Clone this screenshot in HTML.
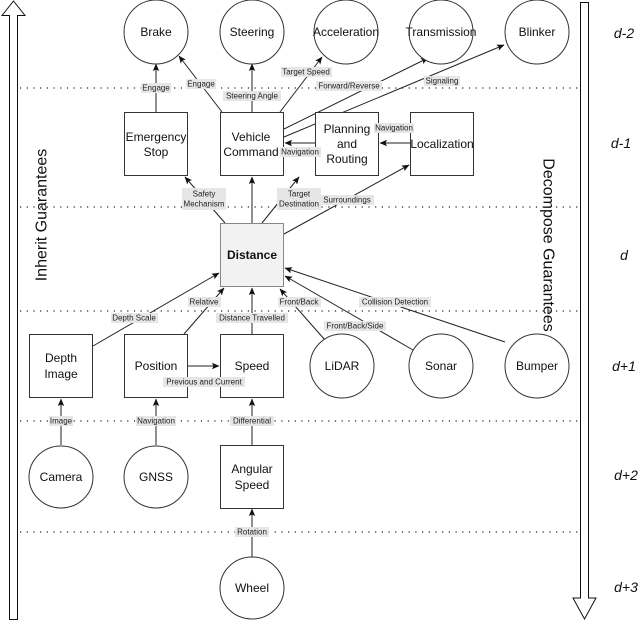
<!DOCTYPE html>
<html><head><meta charset="utf-8"><style>
html,body{margin:0;padding:0;background:#fff;width:638px;height:620px;overflow:hidden}
svg{display:block;font-family:"Liberation Sans",Arial,sans-serif}
.n{font-size:12px;fill:#111;text-anchor:middle;dominant-baseline:central}
.l{font-size:8px;fill:#222;text-anchor:middle;dominant-baseline:central}
.e{stroke:#222;stroke-width:1;fill:none;marker-end:url(#a)}
.b{fill:#fff;stroke:#333;stroke-width:1}
.dot{stroke:#222;stroke-width:1.2;stroke-dasharray:1.2 5.5}
.d{font-size:14px;font-style:italic;fill:#111;text-anchor:middle;dominant-baseline:central}
</style></head><body>
<svg width="638" height="620" viewBox="0 0 638 620">
<defs><marker id="a" markerWidth="8" markerHeight="8" refX="7" refY="4" orient="auto" markerUnits="userSpaceOnUse"><path d="M0,0.8 L7.5,4 L0,7.2 L1.5,4Z" fill="#111"/></marker></defs>
<!-- dotted lines -->
<line class="dot" x1="20" y1="88" x2="578" y2="88"/>
<line class="dot" x1="20" y1="207" x2="578" y2="207"/>
<line class="dot" x1="20" y1="311" x2="578" y2="311"/>
<line class="dot" x1="20" y1="421" x2="578" y2="421"/>
<line class="dot" x1="20" y1="532" x2="578" y2="532"/>
<!-- side arrows -->
<path d="M9.5,619.5 L9.5,15.5 L2,15.5 L13.5,1 L25,15.5 L17.5,15.5 L17.5,619.5 Z" fill="#fff" stroke="#111"/>
<path d="M580.5,2.5 L588.5,2.5 L588.5,598 L596,598 L584.5,619 L573,598 L580.5,598 Z" fill="#fff" stroke="#111"/>
<text transform="translate(42,215) rotate(-90)" style="font-size:16px;fill:#111;text-anchor:middle;dominant-baseline:central">Inherit Guarantees</text>
<text transform="translate(548,245) rotate(90)" style="font-size:16px;fill:#111;text-anchor:middle;dominant-baseline:central">Decompose Guarantees</text>
<text class="d" x="624" y="33">d-2</text>
<text class="d" x="621" y="143">d-1</text>
<text class="d" x="624" y="255">d</text>
<text class="d" x="624" y="366">d+1</text>
<text class="d" x="626" y="475">d+2</text>
<text class="d" x="626" y="587">d+3</text>
<!-- edges -->
<line class="e" x1="156" y1="112" x2="156" y2="64"/>
<line class="e" x1="222" y1="112" x2="179" y2="56"/>
<line class="e" x1="252" y1="112" x2="252" y2="64"/>
<line class="e" x1="280" y1="112" x2="322" y2="57"/>
<line class="e" x1="284" y1="129" x2="428" y2="58"/>
<line class="e" x1="284" y1="137" x2="504" y2="45"/>
<line class="e" x1="315" y1="143" x2="285" y2="143"/>
<line class="e" x1="410" y1="143" x2="380" y2="143"/>
<line class="e" x1="225" y1="223" x2="185" y2="177"/>
<line class="e" x1="252" y1="223" x2="252" y2="177"/>
<line class="e" x1="262" y1="223" x2="299" y2="177"/>
<line class="e" x1="284" y1="234" x2="409" y2="165"/>
<line class="e" x1="93" y1="346" x2="219" y2="273"/>
<line class="e" x1="184" y1="334" x2="224" y2="288"/>
<line class="e" x1="252" y1="334" x2="252" y2="288"/>
<line class="e" x1="325" y1="340" x2="280" y2="289"/>
<line class="e" x1="413" y1="350" x2="285" y2="276"/>
<line class="e" x1="505" y1="342" x2="285" y2="268"/>
<line class="e" x1="188" y1="366" x2="219" y2="366"/>
<line class="e" x1="61" y1="445" x2="61" y2="399"/>
<line class="e" x1="156" y1="445" x2="156" y2="399"/>
<line class="e" x1="252" y1="445" x2="252" y2="399"/>
<line class="e" x1="252" y1="557" x2="252" y2="509"/>
<!-- nodes -->
<g>
<circle class="b" cx="156" cy="32" r="32"/><text class="n" x="156" y="32">Brake</text>
<circle class="b" cx="252" cy="32" r="32"/><text class="n" x="252" y="32">Steering</text>
<circle class="b" cx="346" cy="32" r="32"/><text class="n" x="346" y="32">Acceleration</text>
<circle class="b" cx="441" cy="32" r="32"/><text class="n" x="441" y="32">Transmission</text>
<circle class="b" cx="537" cy="32" r="32"/><text class="n" x="537" y="32">Blinker</text>
<rect class="b" x="124.5" y="112.5" width="63" height="63"/><text class="n" x="156" y="137">Emergency</text><text class="n" x="156" y="152">Stop</text>
<rect class="b" x="220.5" y="112.5" width="63" height="63"/><text class="n" x="251" y="137">Vehicle</text><text class="n" x="251" y="152">Command</text>
<rect class="b" x="315.5" y="112.5" width="63" height="63"/><text class="n" x="347" y="129">Planning</text><text class="n" x="347" y="144">and</text><text class="n" x="347" y="159">Routing</text>
<rect class="b" x="410.5" y="112.5" width="63" height="63"/><text class="n" x="442" y="144">Localization</text>
<rect x="220.5" y="223.5" width="63" height="63" fill="#f2f2f2" stroke="#888"/><text class="n" x="252" y="255" style="font-weight:bold">Distance</text>
<rect class="b" x="29.5" y="334.5" width="63" height="63"/><text class="n" x="61" y="358">Depth</text><text class="n" x="61" y="374">Image</text>
<rect class="b" x="124.5" y="334.5" width="63" height="63"/><text class="n" x="156" y="366">Position</text>
<rect class="b" x="220.5" y="334.5" width="63" height="63"/><text class="n" x="252" y="366">Speed</text>
<circle class="b" cx="342" cy="366" r="32"/><text class="n" x="342" y="366">LiDAR</text>
<circle class="b" cx="441" cy="366" r="32"/><text class="n" x="441" y="366">Sonar</text>
<circle class="b" cx="537" cy="366" r="32"/><text class="n" x="537" y="366">Bumper</text>
<ellipse class="b" cx="61" cy="477" rx="32" ry="31"/><text class="n" x="61" y="477">Camera</text>
<ellipse class="b" cx="156" cy="477" rx="32" ry="31"/><text class="n" x="156" y="477">GNSS</text>
<rect class="b" x="220.5" y="445.5" width="63" height="63"/><text class="n" x="252" y="469">Angular</text><text class="n" x="252" y="485">Speed</text>
<ellipse class="b" cx="252" cy="588" rx="32" ry="31"/><text class="n" x="252" y="588">Wheel</text>
</g>
<!-- labels -->
<g fill="#e6e6e6">
<rect x="141" y="83" width="30" height="10"/><rect x="186" y="79" width="30" height="10"/>
<rect x="223" y="91" width="58" height="10"/><rect x="281" y="67" width="51" height="10"/>
<rect x="316" y="81" width="66" height="10"/><rect x="424" y="76" width="36" height="10"/>
<rect x="280" y="147" width="41" height="10"/><rect x="374" y="123" width="40" height="10"/>
<rect x="182" y="188" width="44" height="22"/><rect x="277" y="188" width="44" height="22"/>
<rect x="320" y="195" width="54" height="10"/>
<rect x="111" y="313" width="47" height="10"/><rect x="188" y="297" width="33" height="10"/>
<rect x="216" y="313" width="72" height="10"/><rect x="278" y="297" width="43" height="10"/>
<rect x="324" y="321" width="62" height="10"/><rect x="359" y="297" width="72" height="10"/>
<rect x="163" y="377" width="82" height="10"/>
<rect x="49" y="416" width="24" height="10"/><rect x="136" y="416" width="40" height="10"/>
<rect x="230" y="416" width="44" height="10"/><rect x="235" y="527" width="34" height="10"/>
</g>
<text class="l" x="156" y="88">Engage</text><text class="l" x="201" y="84">Engage</text>
<text class="l" x="252" y="96">Steering Angle</text><text class="l" x="306" y="72">Target Speed</text>
<text class="l" x="349" y="86">Forward/Reverse</text><text class="l" x="442" y="81">Signaling</text>
<text class="l" x="300" y="152">Navigation</text><text class="l" x="394" y="128">Navigation</text>
<text class="l" x="204" y="194">Safety</text><text class="l" x="204" y="204">Mechanism</text>
<text class="l" x="299" y="194">Target</text><text class="l" x="299" y="204">Destination</text>
<text class="l" x="347" y="200">Surroundings</text>
<text class="l" x="134" y="318">Depth Scale</text><text class="l" x="204" y="302">Relative</text>
<text class="l" x="252" y="318">Distance Travelled</text><text class="l" x="299" y="302">Front/Back</text>
<text class="l" x="355" y="326">Front/Back/Side</text><text class="l" x="395" y="302">Collision Detection</text>
<text class="l" x="204" y="382">Previous and Current</text>
<text class="l" x="61" y="421">Image</text><text class="l" x="156" y="421">Navigation</text>
<text class="l" x="252" y="421">Differential</text><text class="l" x="252" y="532">Rotation</text>
</svg>
</body></html>
